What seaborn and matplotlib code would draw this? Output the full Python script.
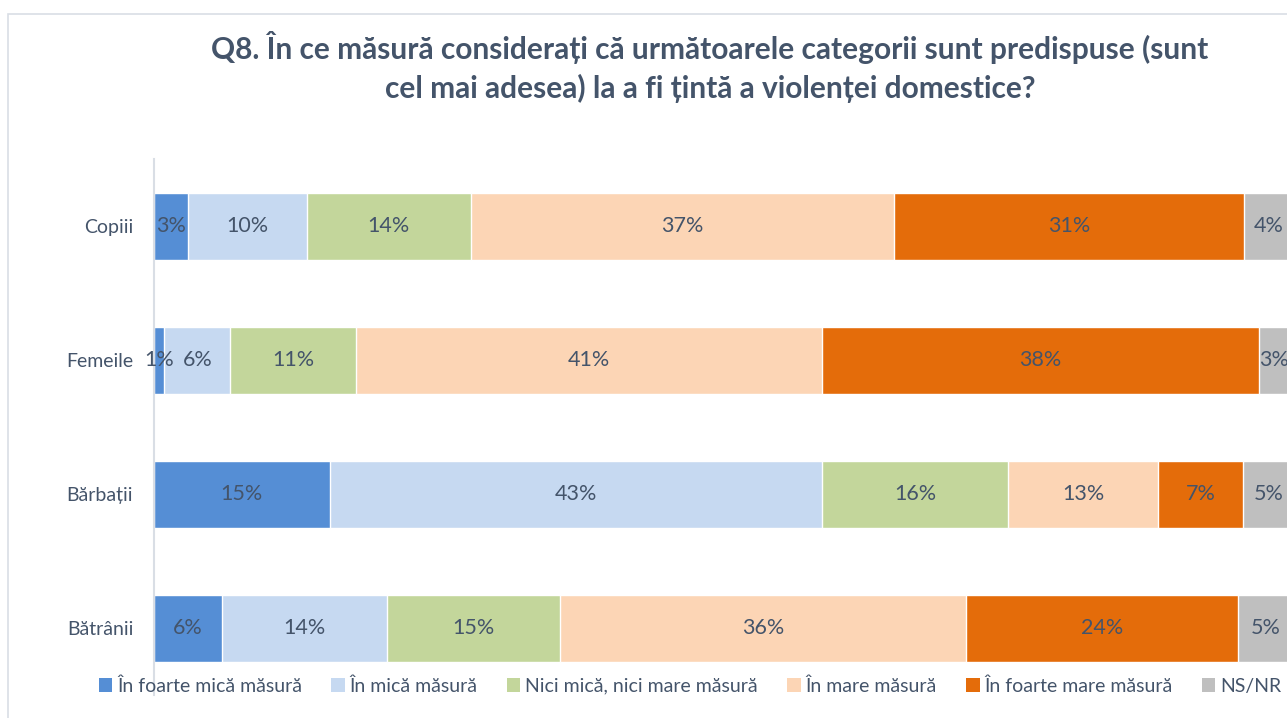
import matplotlib
matplotlib.use("Agg")
import matplotlib.pyplot as plt
from matplotlib.patches import Patch, Rectangle
import seaborn as sns
import pandas as pd
import numpy as np

categories = ["Copiii", "Femeile", "Bărbații", "Bătrânii"]
series_names = ["În foarte mică măsură", "În mică măsură", "Nici mică, nici mare măsură",
                "În mare măsură", "În foarte mare măsură", "NS/NR"]
foarte_mica = [3.0, 0.9, 15.4, 6.0]
mica = [10.4, 5.8, 43.2, 14.4]
nici = [14.4, 11.0, 16.3, 15.2]
mare = [37.1, 40.9, 13.2, 35.6]
foarte_mare = [30.7, 38.3, 7.4, 23.9]
nsnr = [4.4, 2.7, 4.6, 4.8]
colors = ["#558ED5", "#C6D9F1", "#C3D69B", "#FCD5B5", "#E46C0A", "#BFBFBF"]
title = "Q8. În ce măsură considerați că următoarele categorii sunt predispuse (sunt\ncel mai adesea) la a fi țintă a violenței domestice?"

sns.set_theme(style="white")
plt.rcParams['font.family'] = ['Lato', 'DejaVu Sans']
txt_color = "#44546A"

series = [foarte_mica, mica, nici, mare, foarte_mare, nsnr]
df = pd.DataFrame({n: v for n, v in zip(series_names, series)}, index=categories)
cum = df.cumsum(axis=1)

W, H = 1287, 718
fig = plt.figure(figsize=(W / 100, H / 100), dpi=100)
fig.patches.append(Rectangle((8 / W, -0.1), 1.2, 1 - 14 / H + 0.1, transform=fig.transFigure,
                             fill=False, edgecolor="#D9DEE5", linewidth=1.2, zorder=0))
ax = fig.add_axes([154 / W, 1 - 695 / H, 1140 / W, 536 / H])

for i in reversed(range(len(series_names))):
    d = pd.DataFrame({"cat": categories, "val": cum.iloc[:, i].values})
    sns.barplot(data=d, x="val", y="cat", orient="h", color=colors[i], width=0.5,
                edgecolor="white", linewidth=1.0, saturation=1, ax=ax)

for j, cat in enumerate(categories):
    for i, name in enumerate(series_names):
        v = df.loc[cat, name]
        c = cum.loc[cat, name] - v / 2
        ax.text(c, j, f"{int(round(v))}%", ha="center", va="center", fontsize=15.5, color=txt_color)

ax.set_xlim(0, 100)
ax.set_ylim(3.5, -0.5)
ax.set_xlabel("")
ax.set_ylabel("")
ax.set_xticks([])
ax.tick_params(axis="y", length=0, pad=15, labelsize=14, labelcolor=txt_color)
for s in ["top", "right", "bottom"]:
    ax.spines[s].set_visible(False)
ax.spines["left"].set_color("#D9DEE5")
ax.spines["left"].set_linewidth(1.5)

handles = [Patch(facecolor=c, edgecolor="none", label=n) for c, n in zip(colors, series_names)]
fig.legend(handles=handles, loc="center", bbox_to_anchor=(690 / W, 1 - 686 / H), ncol=6,
           frameon=False, fontsize=14, handlelength=0.7, handleheight=0.7,
           handletextpad=0.25, columnspacing=1.5, labelcolor=txt_color)

fig.text(710 / W, 1 - 67 / H, title, ha="center", va="center", fontsize=21.5,
         fontweight="bold", color=txt_color, linespacing=1.4)

fig.savefig("out.png", dpi=100, facecolor="white")
